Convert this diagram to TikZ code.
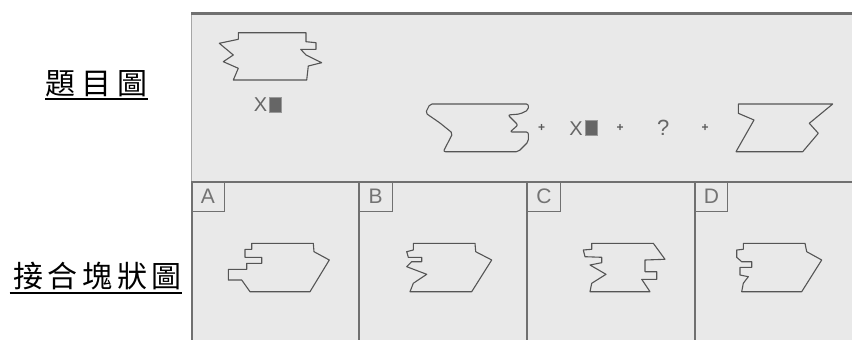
\documentclass[tikz,border=0pt]{standalone}
\usepackage{fontspec}
\setsansfont{Liberation Sans}
\newfontfamily\cjk{Noto Sans CJK TC}
\usepackage{xcolor}
\usetikzlibrary{positioning}

\definecolor{panelgray}{HTML}{E9E9E9}
\definecolor{rulegray}{HTML}{707070}
\definecolor{linegray}{HTML}{555555}

\begin{document}
\begin{tikzpicture}[x=1pt, y=-1pt, thick,
					piece/.style={draw=linegray, line width=1.1pt, line join=round},
					heading/.style={font=\cjk\fontsize{30}{30}\selectfont, inner sep=0pt},
					optbox/.style={rectangle, draw=rulegray, line width=1pt, anchor=north west, inner sep=0pt, minimum width=33pt, minimum height=30pt, font=\sffamily\fontsize{21}{21}\selectfont, text=black!55},
					sym/.style={font=\sffamily\fontsize{20}{20}\selectfont, text=black!60, inner sep=0pt},
					plus/.style={font=\sffamily\bfseries\fontsize{12}{12}\selectfont, text=black!65, inner sep=0pt},
					xsq/.style={rectangle, fill=black!60, draw=black!40, line width=0.8pt, minimum width=12pt, minimum height=15pt, inner sep=0pt}
				]
	\useasboundingbox (0,0) rectangle (852,340);

	% Panel
	\fill[panelgray] (191,12) rectangle (852,340);
	\draw[rulegray, line width=3pt] (191,13.5) -- (852,13.5);
	\draw[black!35, line width=1.5pt] (191.5,15) -- (191.5,181);
	\draw[rulegray, line width=2pt] (191,181.5) -- (852,181.5);
	\foreach \xv in {192,358.5,527,695}
		\draw[rulegray, line width=2pt] (\xv,181) -- (\xv,340);

	% Headings
	\node[heading] (title) at (96.5,83.5) {題\hspace{6pt}目\hspace{6pt}圖};
	\node[heading] (pieces) at (97.5,276.5) {接\hspace{4.75pt}合\hspace{4.75pt}塊\hspace{4.75pt}狀\hspace{4.75pt}圖};
	\draw[line width=2pt] ([yshift=-2pt]title.south west) -- ([yshift=-2pt]title.south east);
	\draw[line width=2pt] ([xshift=-3pt,yshift=-2pt]pieces.south west) -- ([yshift=-2pt]pieces.south east);

	% Question pieces
	\draw[piece] (238.3,32.7) -- (306,32.7) -- (306,41.7) -- (316,42.7) -- (316,49.3) -- (300.7,49.3) -- (306,55) -- (321.7,62.7) -- (308.3,66) -- (306.7,80) -- (233.3,80) -- (238.3,68.3) -- (223.3,61.7) -- (233.3,55) -- (219.3,43.3) -- (238.3,39.3) -- cycle;
	\node[sym] (xm1) at (260.5,105) {X};
	\node[xsq, right=1pt of xm1] (sq1) {};

	\draw[piece, rounded corners=2pt] (430,104) -- (528.3,104) -- (528.3,110) -- (520,114) -- (508,115) -- (518,125) -- (510,132) -- (528.3,132) -- (528.3,141.7) -- (518.3,151.7) -- (443.3,151.7) -- (452.7,133.3) -- (440,123) -- (425.5,113) -- cycle;
	\node[plus] (p1) at (541.7,128.3) {+};
	\node[sym] (xm2) at (576,128.3) {X};
	\node[xsq, right=1.5pt of xm2] (sq2) {};
	\node[plus] (p2) at (620,128.3) {+};
	\node[sym, font=\sffamily\fontsize{22}{22}\selectfont] (qm) at (663.3,127.5) {?};
	\node[plus] (p3) at (705,128.3) {+};
	\draw[piece] (738.3,104) -- (832.7,104) -- (809.3,123.3) -- (818.3,133.3) -- (802.7,151.7) -- (736,151.7) -- (754,120) -- (738.3,113.3) -- cycle;

	% Option boxes
	\node[optbox] (optA) at (191,181) {A};
	\node[optbox] (optB) at (358.5,181) {B};
	\node[optbox] (optC) at (527,181) {C};
	\node[optbox, minimum width=32pt] (optD) at (695,181) {D};

	% Option pieces
	\draw[piece] (251.7,243.3) -- (313.3,243.3) -- (314,251.7) -- (329.3,260) -- (310,291.7) -- (250,291.7) -- (241.7,280) -- (228.3,280) -- (228.3,269.3) -- (246.7,269.3) -- (246.7,263.3) -- (261.7,263.3) -- (261.7,257.3) -- (245,257.3) -- (245,249.3) -- (251.7,249.3) -- cycle;
	\draw[piece] (413.3,243.3) -- (475,243.3) -- (475.7,251.7) -- (491.7,260) -- (471.7,291.7) -- (410,291.7) -- (413.3,283.3) -- (426.7,274.3) -- (406.7,266.7) -- (411.7,261.7) -- (421.7,261.7) -- (421.7,257.3) -- (408.3,257.3) -- (406.7,251.7) -- (413.3,250) -- cycle;
	\draw[piece] (591.7,243.3) -- (653.3,243.3) -- (665,259.3) -- (645,260) -- (645,271.7) -- (656.7,271.7) -- (656.7,279.3) -- (641.7,279.3) -- (650,291.7) -- (590,291.7) -- (591.7,283.3) -- (606,274.3) -- (590,265) -- (601.7,262.7) -- (601.7,257.3) -- (585,256.7) -- (583.3,250) -- (591.7,249.3) -- cycle;
	\draw[piece] (743.3,243.3) -- (805,243.3) -- (806.7,251.7) -- (821.7,260) -- (801.7,291.7) -- (741.7,291.7) -- (743.3,283.3) -- (748.3,276.7) -- (740,275) -- (740,267.3) -- (751.7,267.3) -- (751.7,261.7) -- (741.7,261.7) -- (736.7,257.3) -- (736.7,250) -- (743.3,249.3) -- cycle;
\end{tikzpicture}
\end{document}
